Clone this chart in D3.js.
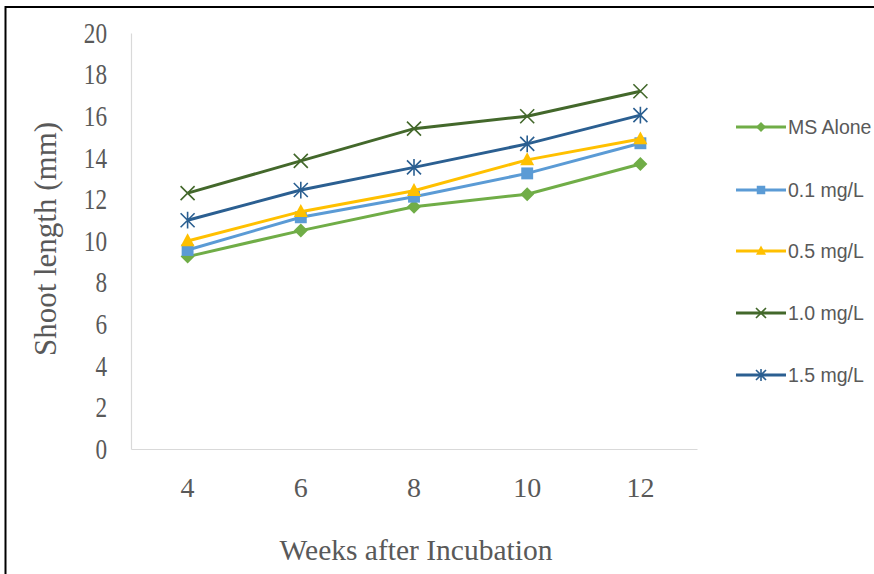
<!DOCTYPE html>
<html><head><meta charset="utf-8">
<script src="https://cdn.jsdelivr.net/npm/d3@7"></script>
<style>body{margin:0;background:#fff}svg{display:block}</style>
</head><body>
<script>
const weeks = ["4","6","8","10","12"];
const seriesNames = ["MS Alone","0.1 mg/L","0.5 mg/L","1.0 mg/L","1.5 mg/L"];
const msAlone = [9.25, 10.5, 11.65, 12.25, 13.7];
const mg01 = [9.57, 11.14, 12.13, 13.25, 14.7];
const mg05 = [10.0, 11.41, 12.42, 13.9, 14.9];
const mg10 = [12.3, 13.85, 15.4, 16.0, 17.2];
const mg15 = [11.0, 12.45, 13.54, 14.67, 16.05];
const yTicks = [0,2,4,6,8,10,12,14,16,18,20];
const colors = ["#70AD47","#5B9BD5","#FFC000","#43682B","#2B5F91"];
const markers = ["diamond","square","triangle","x","star"];
const seriesValues = [msAlone, mg01, mg05, mg10, mg15];

const W = 874, H = 574;
const svg = d3.select("body").append("svg").attr("width", W).attr("height", H);
svg.append("rect").attr("width", W).attr("height", H).attr("fill", "#fff");
svg.append("rect").attr("x", 5.5).attr("y", 7).attr("width", 900).attr("height", 600)
  .attr("fill", "none").attr("stroke", "#000").attr("stroke-width", 2);

const plot = {l:131, r:697, t:33, b:449};
const x = d3.scaleBand().domain(weeks).range([plot.l, plot.r]);
const y = d3.scaleLinear().domain([0,20]).range([plot.b, plot.t]);

const serif = "'Liberation Serif','Times New Roman',serif";
const txt = "#595959";

// axes
const yAxis = svg.append("g").attr("transform", `translate(${plot.l},0)`)
  .call(d3.axisLeft(y).tickValues(yTicks).tickSize(0).tickPadding(0));
yAxis.select(".domain").attr("stroke", "#d9d9d9").attr("stroke-width", 1.2);
yAxis.selectAll("text").attr("x", null).attr("font-family", serif).attr("font-size", 29).attr("fill", txt)
  .attr("transform", "translate(-24,0) scale(0.8,1)");

const xAxis = svg.append("g").attr("transform", `translate(0,${plot.b})`)
  .call(d3.axisBottom(x).tickSize(0).tickPadding(28));
xAxis.select(".domain").attr("stroke", "#d9d9d9").attr("stroke-width", 1.2);
xAxis.selectAll("text").attr("font-family", serif).attr("font-size", 28).attr("fill", txt)
  .attr("dy", null).attr("y", 48);

svg.append("text").attr("x", 416).attr("y", 560).attr("text-anchor", "middle")
  .attr("font-family", serif).attr("font-size", 29.5).attr("fill", txt).text("Weeks after Incubation");
svg.append("text").attr("transform", "translate(56,239) rotate(-90)").attr("text-anchor", "middle")
  .attr("font-family", serif).attr("font-size", 31).attr("fill", txt).text("Shoot length (mm)");

function drawMarker(g, type, cx, cy, color, s) {
  if (type === "diamond") {
    g.append("path").attr("d", `M${cx},${cy-s}L${cx+s},${cy}L${cx},${cy+s}L${cx-s},${cy}Z`).attr("fill", color);
  } else if (type === "square") {
    g.append("rect").attr("x", cx-s*0.85).attr("y", cy-s*0.85).attr("width", s*1.7).attr("height", s*1.7).attr("fill", color);
  } else if (type === "triangle") {
    g.append("path").attr("d", `M${cx},${cy-s*1.1}L${cx+s},${cy+s*0.75}L${cx-s},${cy+s*0.75}Z`).attr("fill", color);
  } else if (type === "x") {
    g.append("path").attr("d", `M${cx-s},${cy-s}L${cx+s},${cy+s}M${cx+s},${cy-s}L${cx-s},${cy+s}`)
      .attr("stroke", color).attr("stroke-width", 1.6).attr("fill", "none");
  } else if (type === "star") {
    g.append("path").attr("d", `M${cx-s},${cy-s}L${cx+s},${cy+s}M${cx+s},${cy-s}L${cx-s},${cy+s}M${cx},${cy-s*1.2}L${cx},${cy+s*1.2}`)
      .attr("stroke", color).attr("stroke-width", 1.6).attr("fill", "none");
  }
}

const line = d3.line().x((d,i) => x(weeks[i]) + x.bandwidth()/2).y(d => y(d));
seriesValues.forEach((vals, si) => {
  const g = svg.append("g");
  g.append("path").datum(vals).attr("d", line).attr("fill", "none")
    .attr("stroke", colors[si]).attr("stroke-width", 3);
  vals.forEach((v, i) => drawMarker(g, markers[si], x(weeks[i]) + x.bandwidth()/2, y(v), colors[si], 7));
});

// legend
const legY = [127, 190, 251, 313, 375];
const sans = "'Liberation Sans','Open Sans',Arial,sans-serif";
seriesNames.forEach((name, si) => {
  const g = svg.append("g");
  g.append("line").attr("x1", 736).attr("x2", 786).attr("y1", legY[si]).attr("y2", legY[si])
    .attr("stroke", colors[si]).attr("stroke-width", 3);
  drawMarker(g, markers[si], 761, legY[si], colors[si], 5);
  g.append("text").attr("x", 788).attr("y", legY[si] + 7).attr("font-family", sans)
    .attr("font-size", 19.5).attr("fill", txt).text(name);
});
</script>
</body></html>
